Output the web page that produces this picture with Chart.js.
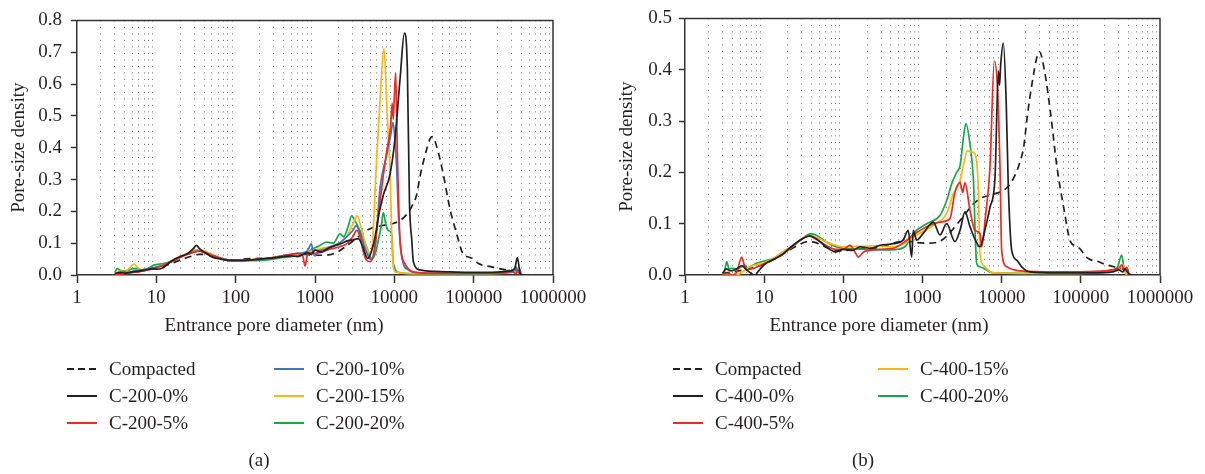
<!DOCTYPE html>
<html>
<head>
<meta charset="utf-8">
<script src="https://cdn.jsdelivr.net/npm/chart.js@4.4.0/dist/chart.umd.min.js"></script>
<style>
  body { margin: 0; background: #fff; font-family: "Liberation Serif", serif; color: #231f20; }
  #wrap { position: relative; width: 1205px; height: 474px; overflow: hidden; }
  canvas { position: absolute; top: 0; }
  #ca { left: 0; }
  #cb { left: 600px; }
  .txt { position: absolute; font-size: 19px; line-height: 22px; white-space: nowrap; }
  .xt { transform: translateX(-50%); }
  .item { position: absolute; height: 22px; font-size: 19px; line-height: 22px; white-space: nowrap; }
  .item i { position: absolute; left: 0; top: 10px; width: 30px; height: 2px; }
  .item span { position: absolute; top: 0; }
</style>
</head>
<body>
<div id="wrap">
  <canvas id="ca" width="600" height="474"></canvas>
  <canvas id="cb" width="605" height="474"></canvas>
  <div class="txt xt" style="left:274px; top:314px;">Entrance pore diameter (nm)</div>
  <div class="txt xt" style="left:879px; top:314px;">Entrance pore diameter (nm)</div>
  <div class="txt xt" style="left:259px; top:449px;">(a)</div>
  <div class="txt xt" style="left:863px; top:449px;">(b)</div>
  <div id="legA"></div>
  <div id="legB"></div>
</div>
<script>
const ink = '#231f20';

// compacted soil, same curve in both panels
const diaCompacted = [3, 4, 5.5, 8, 11, 15, 20, 27, 35, 45, 55, 75, 100, 135, 200, 260, 350, 480, 650, 860, 1100, 1550, 2000, 2700, 3500, 4500, 5500, 6600, 8000, 9700, 11600, 14300, 17000, 19000, 21100, 24000, 28500, 30000, 35000, 41500, 50000, 61000, 74000, 88000, 99000, 115000, 132000, 160000, 200000, 260000, 320000, 380000, 420000];
const psdCompacted = [0.003, 0.006, 0.01, 0.016, 0.024, 0.035, 0.047, 0.058, 0.065, 0.063, 0.057, 0.049, 0.047, 0.051, 0.052, 0.053, 0.058, 0.064, 0.066, 0.063, 0.062, 0.064, 0.075, 0.098, 0.12, 0.14, 0.15, 0.154, 0.158, 0.162, 0.17, 0.19, 0.22, 0.25, 0.31, 0.37, 0.43, 0.435, 0.395, 0.315, 0.21, 0.13, 0.065, 0.056, 0.05, 0.036, 0.03, 0.027, 0.021, 0.016, 0.013, 0.008, 0.0];

// panel (a): C-200
const dia200_0 = [3, 3.5, 4, 5, 6, 7, 8, 9, 10, 12, 14, 17, 20, 25, 29, 32, 35, 40, 50, 65, 80, 100, 150, 200, 300, 400, 500, 600, 700, 800, 900, 1000, 1200, 1500, 1800, 2200, 2600, 3000, 3500, 4000, 4600, 5500, 6500, 7300, 8800, 10200, 11800, 13400, 14600, 15500, 16600, 17400, 21000, 45000, 100000, 200000, 280000, 330000, 355000, 385000, 400000];
const psd200_0 = [0.005, 0.008, 0.006, 0.01, 0.012, 0.015, 0.018, 0.02, 0.018, 0.022, 0.035, 0.05, 0.058, 0.068, 0.082, 0.093, 0.083, 0.072, 0.057, 0.05, 0.046, 0.046, 0.047, 0.05, 0.054, 0.058, 0.06, 0.058, 0.064, 0.07, 0.065, 0.078, 0.072, 0.085, 0.092, 0.1, 0.108, 0.11, 0.114, 0.09, 0.052, 0.1, 0.2, 0.253, 0.315, 0.429, 0.615, 0.76, 0.646, 0.233, 0.109, 0.041, 0.016, 0.01, 0.008, 0.009, 0.012, 0.021, 0.055, 0.005, 0.0];

const dia200_5 = [3, 3.5, 4, 5, 6, 7, 8, 10, 12, 15, 20, 25, 30, 35, 40, 50, 65, 80, 100, 150, 200, 300, 400, 500, 600, 700, 750, 800, 900, 1000, 1200, 1500, 2000, 2500, 3000, 3350, 3700, 4000, 4500, 5000, 5600, 6600, 8000, 9000, 9400, 9700, 10000, 10400, 10900, 11800, 13600, 17400, 30000, 100000, 250000, 300000, 340000, 360000, 380000, 400000];
const psd200_5 = [0.003, 0.002, 0.004, 0.008, 0.01, 0.014, 0.016, 0.022, 0.03, 0.04, 0.055, 0.065, 0.072, 0.075, 0.072, 0.062, 0.052, 0.047, 0.045, 0.047, 0.05, 0.055, 0.06, 0.065, 0.068, 0.06, 0.028, 0.062, 0.07, 0.068, 0.072, 0.08, 0.088, 0.098, 0.12, 0.14, 0.12, 0.08, 0.045, 0.042, 0.08, 0.233, 0.388, 0.47, 0.54, 0.49, 0.56, 0.636, 0.39, 0.109, 0.036, 0.01, 0.006, 0.006, 0.008, 0.012, 0.005, 0.015, 0.003, 0.0];

const dia200_10 = [3, 3.5, 4, 4.5, 5, 6, 7, 8, 10, 12, 15, 20, 25, 30, 35, 40, 50, 65, 80, 100, 150, 200, 300, 400, 500, 600, 700, 800, 900, 950, 1000, 1100, 1300, 1600, 2000, 2500, 3000, 3300, 3700, 4200, 4800, 5200, 5800, 6600, 8000, 9000, 9600, 10000, 10700, 11300, 12400, 15000, 20000, 100000, 300000, 340000, 360000, 380000, 400000];
const psd200_10 = [0.003, 0.008, 0.01, 0.005, 0.012, 0.015, 0.018, 0.02, 0.025, 0.03, 0.042, 0.056, 0.066, 0.073, 0.076, 0.072, 0.063, 0.053, 0.048, 0.046, 0.047, 0.049, 0.055, 0.06, 0.065, 0.068, 0.07, 0.075, 0.098, 0.07, 0.06, 0.075, 0.08, 0.09, 0.1, 0.12, 0.14, 0.155, 0.13, 0.09, 0.055, 0.048, 0.1, 0.274, 0.377, 0.44, 0.48, 0.45, 0.336, 0.18, 0.057, 0.016, 0.007, 0.005, 0.008, 0.02, 0.008, 0.018, 0.0];

const dia200_15 = [3, 3.5, 4, 4.5, 5.2, 6, 7, 8, 10, 12, 15, 20, 25, 30, 35, 40, 50, 65, 80, 100, 150, 200, 300, 400, 500, 700, 900, 1000, 1300, 1600, 2000, 2500, 3000, 3400, 3800, 4300, 4900, 5300, 5900, 6600, 7400, 8100, 8800, 9300, 9700, 10200, 20000, 100000, 250000, 320000, 350000, 370000, 400000];
const psd200_15 = [0.005, 0.012, 0.01, 0.02, 0.034, 0.02, 0.015, 0.018, 0.025, 0.03, 0.042, 0.058, 0.068, 0.075, 0.078, 0.076, 0.065, 0.054, 0.048, 0.046, 0.048, 0.05, 0.055, 0.06, 0.063, 0.068, 0.075, 0.078, 0.085, 0.09, 0.1, 0.12, 0.16, 0.186, 0.15, 0.1, 0.067, 0.1, 0.336, 0.55, 0.713, 0.51, 0.336, 0.12, 0.026, 0.01, 0.004, 0.004, 0.006, 0.012, 0.006, 0.014, 0.0];

const dia200_20 = [3, 3.2, 3.5, 4, 4.5, 5, 5.7, 6.5, 7.5, 9.3, 12.4, 15, 18, 24, 32, 43, 64, 94, 150, 200, 300, 400, 500, 600, 700, 800, 950, 1100, 1400, 1700, 2070, 2300, 2600, 2900, 3200, 3520, 4000, 4480, 5180, 5800, 6280, 6800, 7260, 7800, 8400, 9250, 9700, 11800, 20000, 100000, 200000, 280000, 320000, 345000, 360000, 380000, 400000];
const psd200_20 = [0.008, 0.02, 0.015, 0.012, 0.015, 0.02, 0.021, 0.015, 0.018, 0.031, 0.036, 0.042, 0.052, 0.067, 0.078, 0.067, 0.052, 0.044, 0.045, 0.046, 0.05, 0.055, 0.058, 0.063, 0.066, 0.07, 0.083, 0.09, 0.103, 0.1, 0.129, 0.12, 0.15, 0.186, 0.17, 0.15, 0.12, 0.088, 0.052, 0.07, 0.109, 0.15, 0.196, 0.16, 0.14, 0.129, 0.036, 0.007, 0.004, 0.004, 0.006, 0.015, 0.01, 0.025, 0.012, 0.005, 0.0];

// panel (b): C-400
const dia400_0 = [3, 3.3, 3.8, 4.5, 5.2, 6, 7, 7.7, 8.5, 10, 13, 17, 22, 30, 38, 48, 60, 80, 100, 130, 162, 220, 290, 430, 570, 660, 730, 765, 845, 1020, 1370, 1660, 2020, 2570, 2980, 3440, 3980, 4600, 5320, 6200, 7120, 8240, 9080, 9400, 9720, 10500, 11400, 12100, 13400, 15500, 17900, 22800, 50000, 150000, 250000, 300000, 340000, 360000, 400000, 430000];
const psd400_0 = [0.003, 0.012, 0.008, 0.012, 0.018, 0.01, 0.002, 0.0, 0.008, 0.02, 0.03, 0.04, 0.055, 0.07, 0.076, 0.068, 0.055, 0.045, 0.05, 0.048, 0.055, 0.052, 0.058, 0.061, 0.068, 0.087, 0.035, 0.087, 0.068, 0.081, 0.103, 0.078, 0.1, 0.065, 0.087, 0.123, 0.094, 0.07, 0.055, 0.09, 0.132, 0.19, 0.397, 0.37, 0.41, 0.452, 0.339, 0.178, 0.048, 0.029, 0.016, 0.006, 0.004, 0.004, 0.006, 0.01, 0.006, 0.012, 0.003, 0.0];

const dia400_5 = [3, 3.5, 4, 4.5, 5.2, 5.6, 6, 7, 8, 10, 13, 17, 22, 30, 36, 45, 60, 80, 100, 121, 140, 155, 180, 217, 300, 427, 600, 765, 1130, 1660, 2220, 2570, 2980, 3220, 3440, 3980, 4600, 5320, 5590, 6300, 7120, 8070, 8810, 9530, 10000, 11600, 17000, 50000, 150000, 250000, 300000, 330000, 350000, 380000, 410000];
const psd400_5 = [0.0, 0.003, 0.0, 0.005, 0.035, 0.02, 0.01, 0.012, 0.015, 0.022, 0.03, 0.04, 0.055, 0.07, 0.076, 0.07, 0.058, 0.05, 0.05, 0.058, 0.045, 0.035, 0.045, 0.048, 0.05, 0.052, 0.065, 0.078, 0.094, 0.103, 0.11, 0.161, 0.18, 0.161, 0.18, 0.126, 0.087, 0.081, 0.055, 0.12, 0.21, 0.417, 0.371, 0.21, 0.048, 0.016, 0.008, 0.006, 0.007, 0.01, 0.013, 0.02, 0.01, 0.015, 0.0];

const dia400_15 = [3, 3.5, 4, 5, 6, 7, 8, 10, 13, 17, 22, 30, 38, 48, 60, 80, 100, 162, 250, 427, 600, 765, 1370, 2020, 2450, 2980, 3300, 3680, 4200, 4600, 5070, 5320, 5860, 7840, 50000, 150000, 250000, 320000, 345000, 360000, 380000];
const psd400_15 = [0.002, 0.0, 0.0, 0.003, 0.012, 0.018, 0.02, 0.024, 0.032, 0.045, 0.055, 0.07, 0.077, 0.072, 0.065, 0.058, 0.055, 0.056, 0.057, 0.055, 0.062, 0.074, 0.097, 0.12, 0.158, 0.184, 0.215, 0.242, 0.24, 0.236, 0.171, 0.042, 0.019, 0.004, 0.003, 0.004, 0.007, 0.01, 0.02, 0.008, 0.0];

const dia400_20 = [3, 3.1, 3.36, 3.6, 3.9, 4.5, 5.2, 5.6, 6.2, 7, 8, 10, 13, 20, 30, 38, 45, 60, 80, 100, 200, 400, 600, 765, 1130, 1660, 2020, 2340, 2700, 3000, 3300, 3540, 3980, 4380, 4830, 5320, 7840, 50000, 150000, 250000, 290000, 328000, 350000, 380000];
const psd400_20 = [0.003, 0.003, 0.026, 0.012, 0.013, 0.012, 0.016, 0.02, 0.014, 0.018, 0.023, 0.027, 0.032, 0.048, 0.07, 0.08, 0.078, 0.065, 0.055, 0.052, 0.05, 0.049, 0.055, 0.081, 0.1, 0.116, 0.145, 0.178, 0.2, 0.215, 0.27, 0.295, 0.255, 0.19, 0.023, 0.016, 0.004, 0.003, 0.005, 0.01, 0.015, 0.039, 0.015, 0.0];

// x gridlines at 2..9 of every decade, labels only at decades
const decades = [1, 10, 100, 1000, 10000, 100000, 1000000];
const decadeSet = new Set(decades);
const gridVals = [];
decades.forEach(d => {
  for (let m = 1; m <= 9; m++) {
    if (d * m <= 1000000) gridVals.push(d * m);
  }
});

const cBlack = '#231f20', cRed = '#ee2a24', cBlue = '#3a78c0', cYellow = '#fdb515', cGreen = '#14a84a';

const seriesA = [
  { label: 'Compacted', x: diaCompacted, y: psdCompacted, color: cBlack, dash: [7, 5] },
  { label: 'C-200-0%', x: dia200_0, y: psd200_0, color: cBlack },
  { label: 'C-200-5%', x: dia200_5, y: psd200_5, color: cRed },
  { label: 'C-200-10%', x: dia200_10, y: psd200_10, color: cBlue },
  { label: 'C-200-15%', x: dia200_15, y: psd200_15, color: cYellow },
  { label: 'C-200-20%', x: dia200_20, y: psd200_20, color: cGreen }
];
const seriesB = [
  { label: 'Compacted', x: diaCompacted, y: psdCompacted, color: cBlack, dash: [7, 5] },
  { label: 'C-400-0%', x: dia400_0, y: psd400_0, color: cBlack },
  { label: 'C-400-5%', x: dia400_5, y: psd400_5, color: cRed },
  { label: 'C-400-15%', x: dia400_15, y: psd400_15, color: cYellow },
  { label: 'C-400-20%', x: dia400_20, y: psd400_20, color: cGreen }
];

Chart.defaults.font.family = '"Liberation Serif", serif';
Chart.defaults.font.size = 19;
Chart.defaults.color = ink;

// top and right edges of the plot box
const framePlugin = {
  id: 'frame',
  afterDraw(chart) {
    const a = chart.chartArea, c = chart.ctx;
    c.save();
    c.strokeStyle = '#333';
    c.lineWidth = 1.5;
    c.beginPath();
    c.moveTo(a.left, a.top);
    c.lineTo(a.right, a.top);
    c.lineTo(a.right, a.bottom);
    c.stroke();
    c.restore();
  }
};

function isDecade(c) {
  return c.tick && decadeSet.has(c.tick.value);
}

function makeChart(id, series, yMax, padRight, yWidth, yTitlePad, yTickPad) {
  const datasets = [];
  // draw compacted last so the dashes sit on top
  series.slice(1).concat(series.slice(0, 1)).forEach(function (s) {
    datasets.push({
      label: s.label,
      data: s.x.map((x, i) => ({ x: x, y: s.y[i] })),
      borderColor: s.color,
      borderWidth: 1.7,
      borderDash: s.dash || [],
      pointRadius: 0,
      fill: false,
      cubicInterpolationMode: 'monotone'
    });
  });
  return new Chart(document.getElementById(id), {
    type: 'line',
    data: { datasets: datasets },
    options: {
      responsive: false,
      animation: false,
      layout: { padding: { left: 0, top: 17, right: padRight, bottom: 159 } },
      plugins: { legend: { display: false }, tooltip: { enabled: false } },
      scales: {
        x: {
          type: 'logarithmic',
          min: 1,
          max: 1000000,
          afterBuildTicks: s => { s.ticks = gridVals.map(v => ({ value: v })); },
          afterFit: s => { s.height = 40; },
          ticks: {
            autoSkip: false,
            maxRotation: 0,
            padding: 4,
            color: ink,
            callback: v => decadeSet.has(v) ? String(v) : ''
          },
          grid: {
            color: c => isDecade(c) ? 'rgba(0,0,0,0)' : '#6a6a6a',
            lineWidth: 1,
            tickColor: c => isDecade(c) ? '#333' : 'rgba(0,0,0,0)',
            tickLength: 8,
            tickWidth: 1.5
          },
          border: { color: '#333', width: 1.5, dash: [1, 5.5] }
        },
        y: {
          min: 0,
          max: yMax,
          afterFit: s => { s.width = yWidth; },
          ticks: { stepSize: 0.1, padding: yTickPad, color: ink, callback: v => v.toFixed(1) },
          grid: { drawOnChartArea: false, tickLength: 6, tickColor: '#333', tickWidth: 1.5 },
          border: { color: '#333', width: 1.5 },
          title: { display: true, text: 'Pore-size density', color: ink, padding: { top: yTitlePad, bottom: 0 } }
        }
      }
    },
    plugins: [framePlugin]
  });
}

makeChart('ca', seriesA, 0.8, 47, 77, 7.5, 9);
makeChart('cb', seriesB, 0.5, 45, 85, 15.5, 7);

// legends in two columns, column-first
function buildLegend(el, series, offset, cols) {
  const rows = [369, 396, 423];
  series.forEach(function (s, i) {
    const col = i < 3 ? 0 : 1;
    const row = i < 3 ? i : i - 3;
    const d = document.createElement('div');
    d.className = 'item';
    d.style.left = (offset + cols[col]) + 'px';
    d.style.top = (rows[row] - 11) + 'px';
    const line = document.createElement('i');
    if (s.dash) {
      line.style.background = 'repeating-linear-gradient(90deg,' + s.color + ' 0 7px, transparent 7px 11px)';
    } else {
      line.style.background = s.color;
    }
    const t = document.createElement('span');
    t.style.left = '42px';
    t.textContent = s.label;
    d.appendChild(line);
    d.appendChild(t);
    el.appendChild(d);
  });
}
buildLegend(document.getElementById('legA'), seriesA, 0, [67, 274]);
buildLegend(document.getElementById('legB'), seriesB, 600, [73, 278]);
</script>
</body>
</html>
